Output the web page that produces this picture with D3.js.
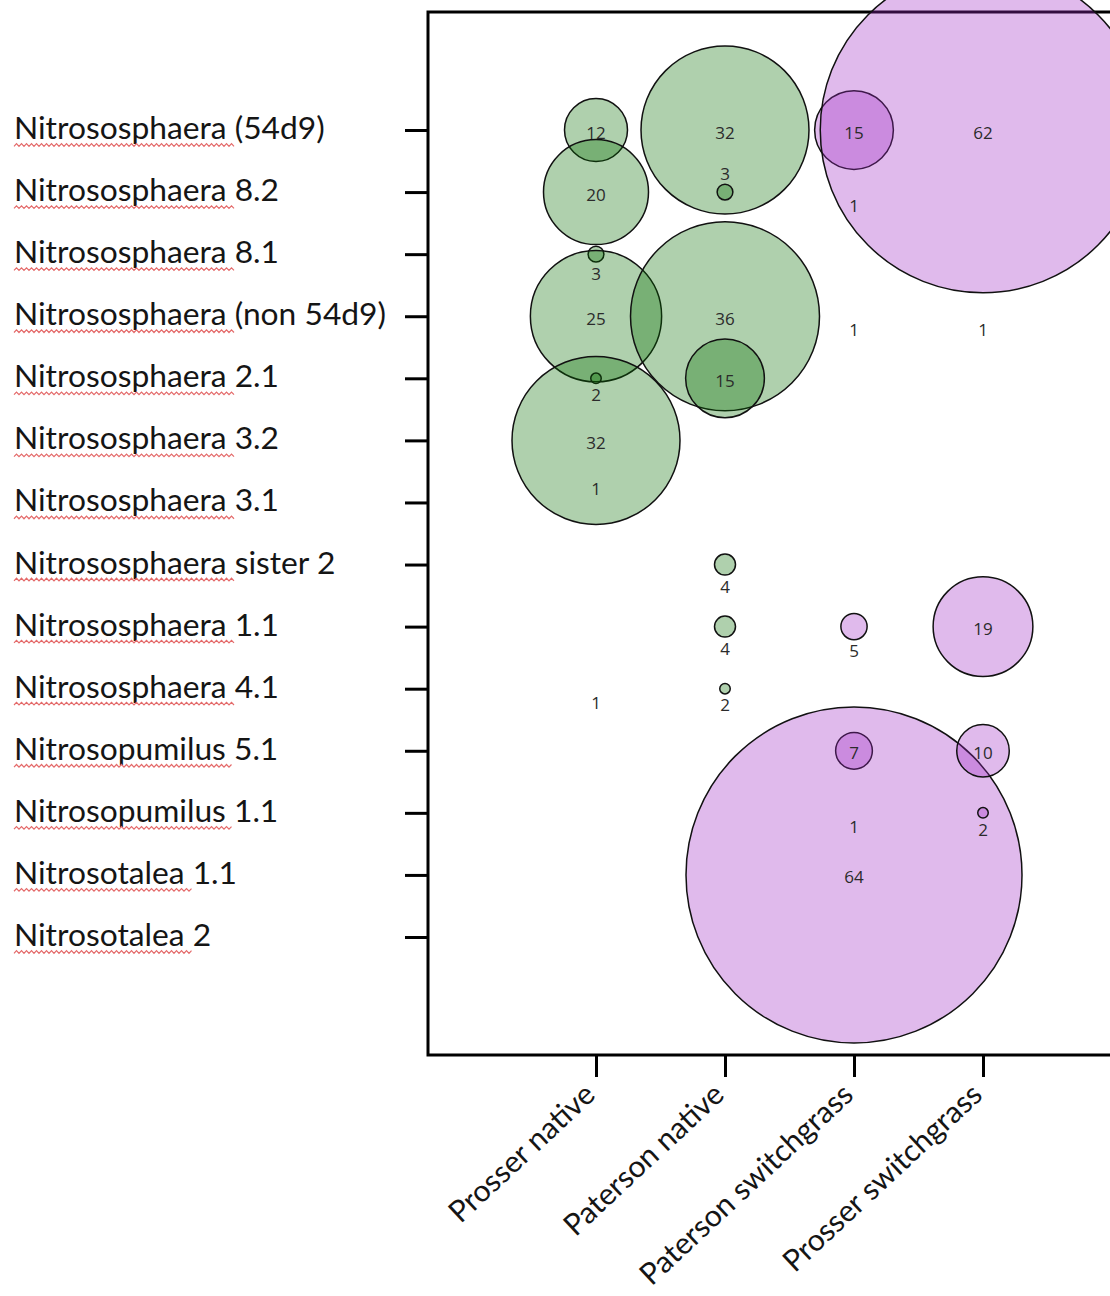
<!DOCTYPE html>
<html>
<head>
<meta charset="utf-8">
<script src="https://cdn.jsdelivr.net/npm/d3@7"></script>
<style>
body { margin: 0; background: #fff; }
svg { display: block; }
.lbl { font-family: Lato, "Open Sans", sans-serif; fill: #151515; }
.num { font-family: "Open Sans", sans-serif; font-size: 17px; fill: #2b2b2b; }
.axis-line { stroke: #000; stroke-width: 3; fill: none; }
</style>
</head>
<body>
<svg></svg>
<script>
var width = 1110, height = 1296;

var taxa = [
  "Nitrososphaera (54d9)", "Nitrososphaera 8.2", "Nitrososphaera 8.1",
  "Nitrososphaera (non 54d9)", "Nitrososphaera 2.1", "Nitrososphaera 3.2",
  "Nitrososphaera 3.1", "Nitrososphaera sister 2", "Nitrososphaera 1.1",
  "Nitrososphaera 4.1", "Nitrosopumilus 5.1", "Nitrosopumilus 1.1",
  "Nitrosotalea 1.1", "Nitrosotalea 2"
];
var sites = ["Prosser native", "Paterson native", "Paterson switchgrass", "Prosser switchgrass"];
var siteColors = ["#056e00", "#056e00", "#9e27c4", "#9e27c4"];

// counts per taxon (same order as taxa), one array per site; 0 = not found
var prosserNative  = [12, 20, 3, 25, 2, 32, 1, 0, 0, 1, 0, 0, 0, 0];
var patersonNative = [32, 3, 0, 36, 15, 0, 0, 4, 4, 2, 0, 0, 0, 0];
var patersonSwitch = [15, 1, 0, 1, 0, 0, 0, 0, 5, 0, 7, 1, 64, 0];
var prosserSwitch  = [62, 0, 0, 1, 0, 0, 0, 0, 19, 0, 10, 2, 0, 0];
var counts = [prosserNative, patersonNative, patersonSwitch, prosserSwitch];

// the few count labels that sit above their bubble instead of below
var labelAbove = ["Nitrososphaera 8.2|Paterson native", "Nitrososphaera 3.1|Prosser native"];

var svg = d3.select("svg").attr("width", width).attr("height", height);

var plot = {left: 428, top: 12, bottom: 1055};

var y = d3.scalePoint().domain(taxa).range([130, 937]);
var x = d3.scalePoint().domain(sites).range([596, 983]);
var r = d3.scaleLinear().domain([0, 64]).range([0, 168]);

var points = [];
sites.forEach(function(s, j) {
  counts[j].forEach(function(v, i) {
    if (v > 0) points.push({taxon: taxa[i], site: s, value: v, color: siteColors[j]});
  });
});

// frame
svg.append("path").attr("class", "axis-line")
  .attr("d", "M" + width + "," + plot.top + "H" + plot.left + "V" + plot.bottom + "H" + width);

// y ticks
var yAxis = svg.append("g")
  .attr("transform", "translate(" + plot.left + ",0)")
  .call(d3.axisLeft(y).tickSize(23).tickFormat(""));
yAxis.select(".domain").remove();
yAxis.selectAll(".tick line").attr("stroke", "#000").attr("stroke-width", 3);

// x ticks
var xAxis = svg.append("g")
  .attr("transform", "translate(0," + plot.bottom + ")")
  .call(d3.axisBottom(x).tickSize(22).tickFormat(""));
xAxis.select(".domain").remove();
xAxis.selectAll(".tick line").attr("stroke", "#000").attr("stroke-width", 3);

// fit label font to the reference width
var probe = svg.append("text").attr("class", "lbl").style("font-size", "30px").text(taxa[3]);
var fontSize = 30 * 372 / probe.node().getComputedTextLength();
probe.remove();

var leftLabels = svg.append("g").selectAll("g").data(taxa).enter().append("g");
leftLabels.append("text")
  .attr("class", "lbl")
  .attr("x", 14)
  .attr("y", function(d) { return y(d) + 9; })
  .style("font-size", fontSize + "px")
  .text(function(d) { return d; });

// red spell-check squiggle under the genus name
leftLabels.each(function(d) {
  var t = d3.select(this).select("text").node();
  var n = d.indexOf(" ");
  var w = t.getSubStringLength(0, n + 1);
  var yy = y(d) + 15, pts = [];
  for (var k = 0; k * 2.5 <= w; k++) pts.push([14 + k * 2.5, yy + (k % 2 ? -1.3 : 1.3)]);
  d3.select(this).append("path")
    .attr("d", d3.line()(pts))
    .attr("fill", "none")
    .attr("stroke", "#e46a6a")
    .attr("stroke-width", 1.2);
});

svg.append("g").selectAll("text").data(sites).enter().append("text")
  .attr("class", "lbl")
  .attr("text-anchor", "end")
  .style("font-size", (fontSize * 0.95) + "px")
  .attr("transform", function(d) { return "translate(" + (x(d) + 1) + "," + 1097 + ") rotate(-43)"; })
  .text(function(d) { return d; });

// bubbles (counts of 1 have no visible bubble)
svg.append("g").selectAll("circle").data(points.filter(function(d) { return d.value > 1; }))
  .enter().append("circle")
  .attr("cx", function(d) { return x(d.site); })
  .attr("cy", function(d) { return y(d.taxon); })
  .attr("r", function(d) { return r(d.value); })
  .attr("fill", function(d) { return d.color; })
  .attr("fill-opacity", 0.32)
  .attr("stroke", "#111")
  .attr("stroke-width", 1.5);

svg.append("g").selectAll("text").data(points).enter().append("text")
  .attr("class", "num")
  .attr("text-anchor", "middle")
  .attr("dominant-baseline", "central")
  .attr("x", function(d) { return x(d.site); })
  .attr("y", function(d) {
    var cy = y(d.taxon);
    if (d.value > 5) return cy + 2;
    var off = r(d.value) + 11;
    return labelAbove.indexOf(d.taxon + "|" + d.site) >= 0 ? cy - off : cy + off;
  })
  .text(function(d) { return d.value; });
</script>
</body>
</html>
